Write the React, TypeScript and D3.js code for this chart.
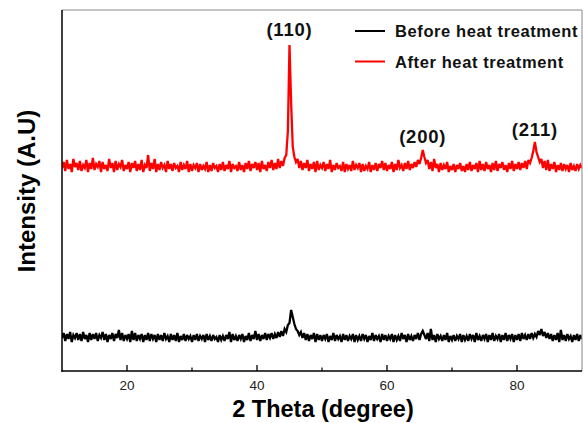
import React from "react";
import * as d3 from "d3";

// XRD scans: 2θ from 10° to 90°, step 0.25°
const twoThetaStart = 10;
const twoThetaStep = 0.25;

// Intensity (arbitrary units, already offset for stacking)
const afterHeat: number[] = [
  203, 209, 200, 211, 202, 207, 199, 212, 204, 208, 201, 210, 200, 206, 203, 211, 199, 208, 202, 213,
  201, 207, 204, 210, 199, 209, 202, 206, 200, 212, 203, 208, 199, 210, 201, 207, 204, 211, 200, 206,
  202, 209, 199, 208, 203, 210, 200, 207, 201, 211, 199, 206, 203, 216, 200, 208, 202, 212, 199, 207,
  201, 209, 203, 206, 199, 210, 202, 207, 200, 208, 203, 205, 199, 209, 201, 206, 202, 210, 199, 207,
  200, 206, 203, 208, 199, 207, 201, 205, 202, 209, 199, 206, 200, 208, 203, 205, 199, 207, 201, 209,
  200, 206, 202, 210, 199, 207, 203, 205, 200, 209, 201, 206, 199, 208, 202, 210, 200, 207, 203, 209,
  201, 208, 199, 210, 202, 206, 200, 209, 203, 211, 201, 208, 202, 212, 203, 210, 205, 213, 216, 240,
  326, 268, 224, 214, 209, 212, 203, 210, 201, 208, 203, 211, 200, 207, 202, 209, 199, 210, 201, 206,
  203, 209, 200, 207, 202, 211, 199, 206, 201, 208, 203, 205, 200, 209, 199, 207, 202, 206, 200, 210,
  201, 206, 203, 208, 199, 207, 200, 205, 202, 209, 199, 206, 201, 208, 200, 207, 203, 210, 201, 208,
  200, 206, 202, 209, 199, 207, 201, 211, 203, 206, 200, 208, 202, 210, 201, 207, 203, 209, 204, 211,
  207, 213, 221, 214, 208, 211, 202, 209, 200, 212, 203, 207, 199, 208, 201, 206, 202, 209, 199, 205,
  201, 207, 199, 206, 202, 208, 200, 205, 199, 207, 201, 209, 200, 206, 202, 208, 199, 210, 201, 207,
  200, 209, 202, 206, 199, 208, 201, 210, 200, 207, 203, 209, 201, 206, 199, 208, 202, 210, 200, 207,
  202, 209, 201, 208, 203, 210, 202, 211, 208, 213, 220, 229, 219, 214, 209, 212, 203, 210, 201, 211,
  200, 207, 202, 209, 199, 206, 201, 208, 200, 207, 202, 206, 199, 208, 201, 205, 200, 207, 202, 206,
  203,
];

const beforeHeat: number[] = [
  33, 38, 30, 37, 32, 39, 29, 36, 33, 38, 31, 37, 30, 39, 32, 36, 29, 38, 31, 37,
  32, 38, 30, 36, 33, 39, 31, 37, 29, 36, 32, 38, 30, 37, 33, 41, 31, 38, 30, 36,
  32, 37, 29, 40, 31, 38, 30, 36, 32, 37, 29, 36, 31, 38, 30, 37, 32, 36, 29, 37,
  31, 36, 30, 38, 32, 35, 29, 37, 31, 36, 30, 38, 29, 35, 31, 37, 30, 36, 32, 35,
  29, 36, 31, 37, 30, 35, 32, 36, 29, 37, 31, 35, 30, 36, 32, 34, 29, 36, 31, 35,
  30, 36, 32, 39, 29, 37, 31, 35, 30, 36, 32, 37, 29, 35, 31, 38, 30, 36, 32, 40,
  31, 37, 30, 36, 32, 38, 31, 37, 33, 38, 32, 37, 33, 39, 34, 40, 35, 42, 39, 46,
  48, 61, 54, 47, 42, 40, 36, 39, 33, 38, 31, 37, 30, 36, 32, 38, 29, 37, 31, 36,
  30, 36, 32, 37, 29, 35, 31, 38, 30, 36, 32, 35, 29, 37, 31, 36, 30, 35, 32, 37,
  29, 36, 31, 35, 30, 37, 32, 36, 29, 35, 31, 38, 30, 36, 32, 35, 29, 37, 31, 36,
  30, 35, 32, 37, 29, 36, 31, 35, 30, 38, 32, 36, 29, 37, 31, 35, 30, 36, 32, 38,
  31, 37, 40, 36, 32, 38, 30, 42, 31, 36, 29, 37, 32, 35, 30, 36, 31, 38, 29, 35,
  31, 36, 30, 35, 32, 37, 29, 36, 31, 35, 30, 37, 32, 36, 29, 38, 31, 35, 30, 36,
  32, 37, 29, 36, 31, 38, 30, 35, 32, 37, 29, 36, 31, 38, 30, 36, 32, 37, 29, 36,
  31, 37, 30, 38, 32, 36, 31, 37, 32, 38, 33, 37, 34, 40, 36, 42, 35, 39, 33, 38,
  32, 37, 30, 36, 31, 38, 29, 41, 31, 36, 30, 37, 32, 35, 29, 36, 31, 37, 30, 36,
  32,
];

const seriesNames = ["Before heat treatment", "After heat treatment"];
const seriesColors = ["#000000", "#ff0000"];

const xTickMajor = [20, 40, 60, 80];
const xTickMinor = [30, 50, 70];

const peakLabels = ["(110)", "(200)", "(211)"];
const peakPositions = [45.0, 65.5, 82.75];
const peakLabelIntensity = [335, 228, 235];

const W = 583;
const H = 423;
const M = { left: 62, right: 582, top: 10, bottom: 371 };

export default function App() {
  const x = d3.scaleLinear().domain([10, 90]).range([M.left, M.right]);
  const y = d3.scaleLinear().domain([0, 361]).range([M.bottom, M.top]);

  const toPts = (arr: number[]) =>
    arr.map((v, i) => [twoThetaStart + i * twoThetaStep, v] as [number, number]);

  const line = d3
    .line<[number, number]>()
    .x((d) => x(d[0]))
    .y((d) => y(d[1]));

  const series = [beforeHeat, afterHeat];
  const font = "'Liberation Sans', Arial, sans-serif";

  return (
    <div style={{ position: "fixed", left: 0, top: 0 }}>
      <svg width={W} height={H} style={{ display: "block", background: "#fff" }}>
        <defs>
          <clipPath id="plotClip">
            <rect x={M.left} y={M.top} width={M.right - M.left} height={M.bottom - M.top} />
          </clipPath>
        </defs>
        <g clipPath="url(#plotClip)">
          {series.map((s, k) => (
            <path
              key={k}
              d={line(toPts(s)) || ""}
              fill="none"
              stroke={seriesColors[k]}
              strokeWidth={2.3}
              strokeLinejoin="miter"
              strokeMiterlimit={3}
            />
          ))}
        </g>
        {/* frame */}
        <line x1={M.left} x2={M.right} y1={M.top} y2={M.top} stroke="#8a8a8a" strokeWidth={1.2} />
        <line x1={M.right} x2={M.right} y1={M.top} y2={M.bottom} stroke="#9a9a9a" strokeWidth={1.2} />
        <line x1={M.left} x2={M.left} y1={M.top} y2={M.bottom + 0.7} stroke="#000" strokeWidth={1.5} />
        <line x1={M.left - 0.7} x2={M.right} y1={M.bottom} y2={M.bottom} stroke="#000" strokeWidth={1.5} />
        {xTickMajor.map((t) => (
          <g key={t}>
            <line x1={x(t)} x2={x(t)} y1={M.bottom} y2={M.bottom - 6} stroke="#000" strokeWidth={1.3} />
            <text
              x={x(t)}
              y={390}
              textAnchor="middle"
              fontFamily={font}
              fontSize={13.5}
              fill="#222"
            >
              {t}
            </text>
          </g>
        ))}
        {xTickMinor.map((t) => (
          <line key={t} x1={x(t)} x2={x(t)} y1={M.bottom} y2={M.bottom - 3.5} stroke="#000" strokeWidth={1.2} />
        ))}
        <text
          x={323}
          y={417}
          textAnchor="middle"
          fontFamily={font}
          fontWeight="bold"
          fontSize={23.5}
          fill="#000"
        >
          2 Theta (degree)
        </text>
        <text
          transform={`translate(35,191) rotate(-90)`}
          textAnchor="middle"
          fontFamily={font}
          fontWeight="bold"
          fontSize={24}
          fill="#000"
        >
          Intensity (A.U)
        </text>
        {peakLabels.map((lab, i) => (
          <text
            key={lab}
            x={x(peakPositions[i])}
            y={y(peakLabelIntensity[i])}
            textAnchor="middle"
            fontFamily={font}
            fontWeight="bold"
            fontSize={18.5}
            letterSpacing={0.8}
            fill="#111"
          >
            {lab}
          </text>
        ))}
        {seriesNames.map((name, k) => (
          <g key={name}>
            <line
              x1={355}
              x2={385}
              y1={31 + k * 30.5}
              y2={31 + k * 30.5}
              stroke={seriesColors[k]}
              strokeWidth={2}
            />
            <text
              x={395}
              y={37 + k * 30.5}
              fontFamily={font}
              fontWeight="bold"
              fontSize={16.5}
              letterSpacing={0.6}
              fill="#111"
            >
              {name}
            </text>
          </g>
        ))}
      </svg>
    </div>
  );
}
